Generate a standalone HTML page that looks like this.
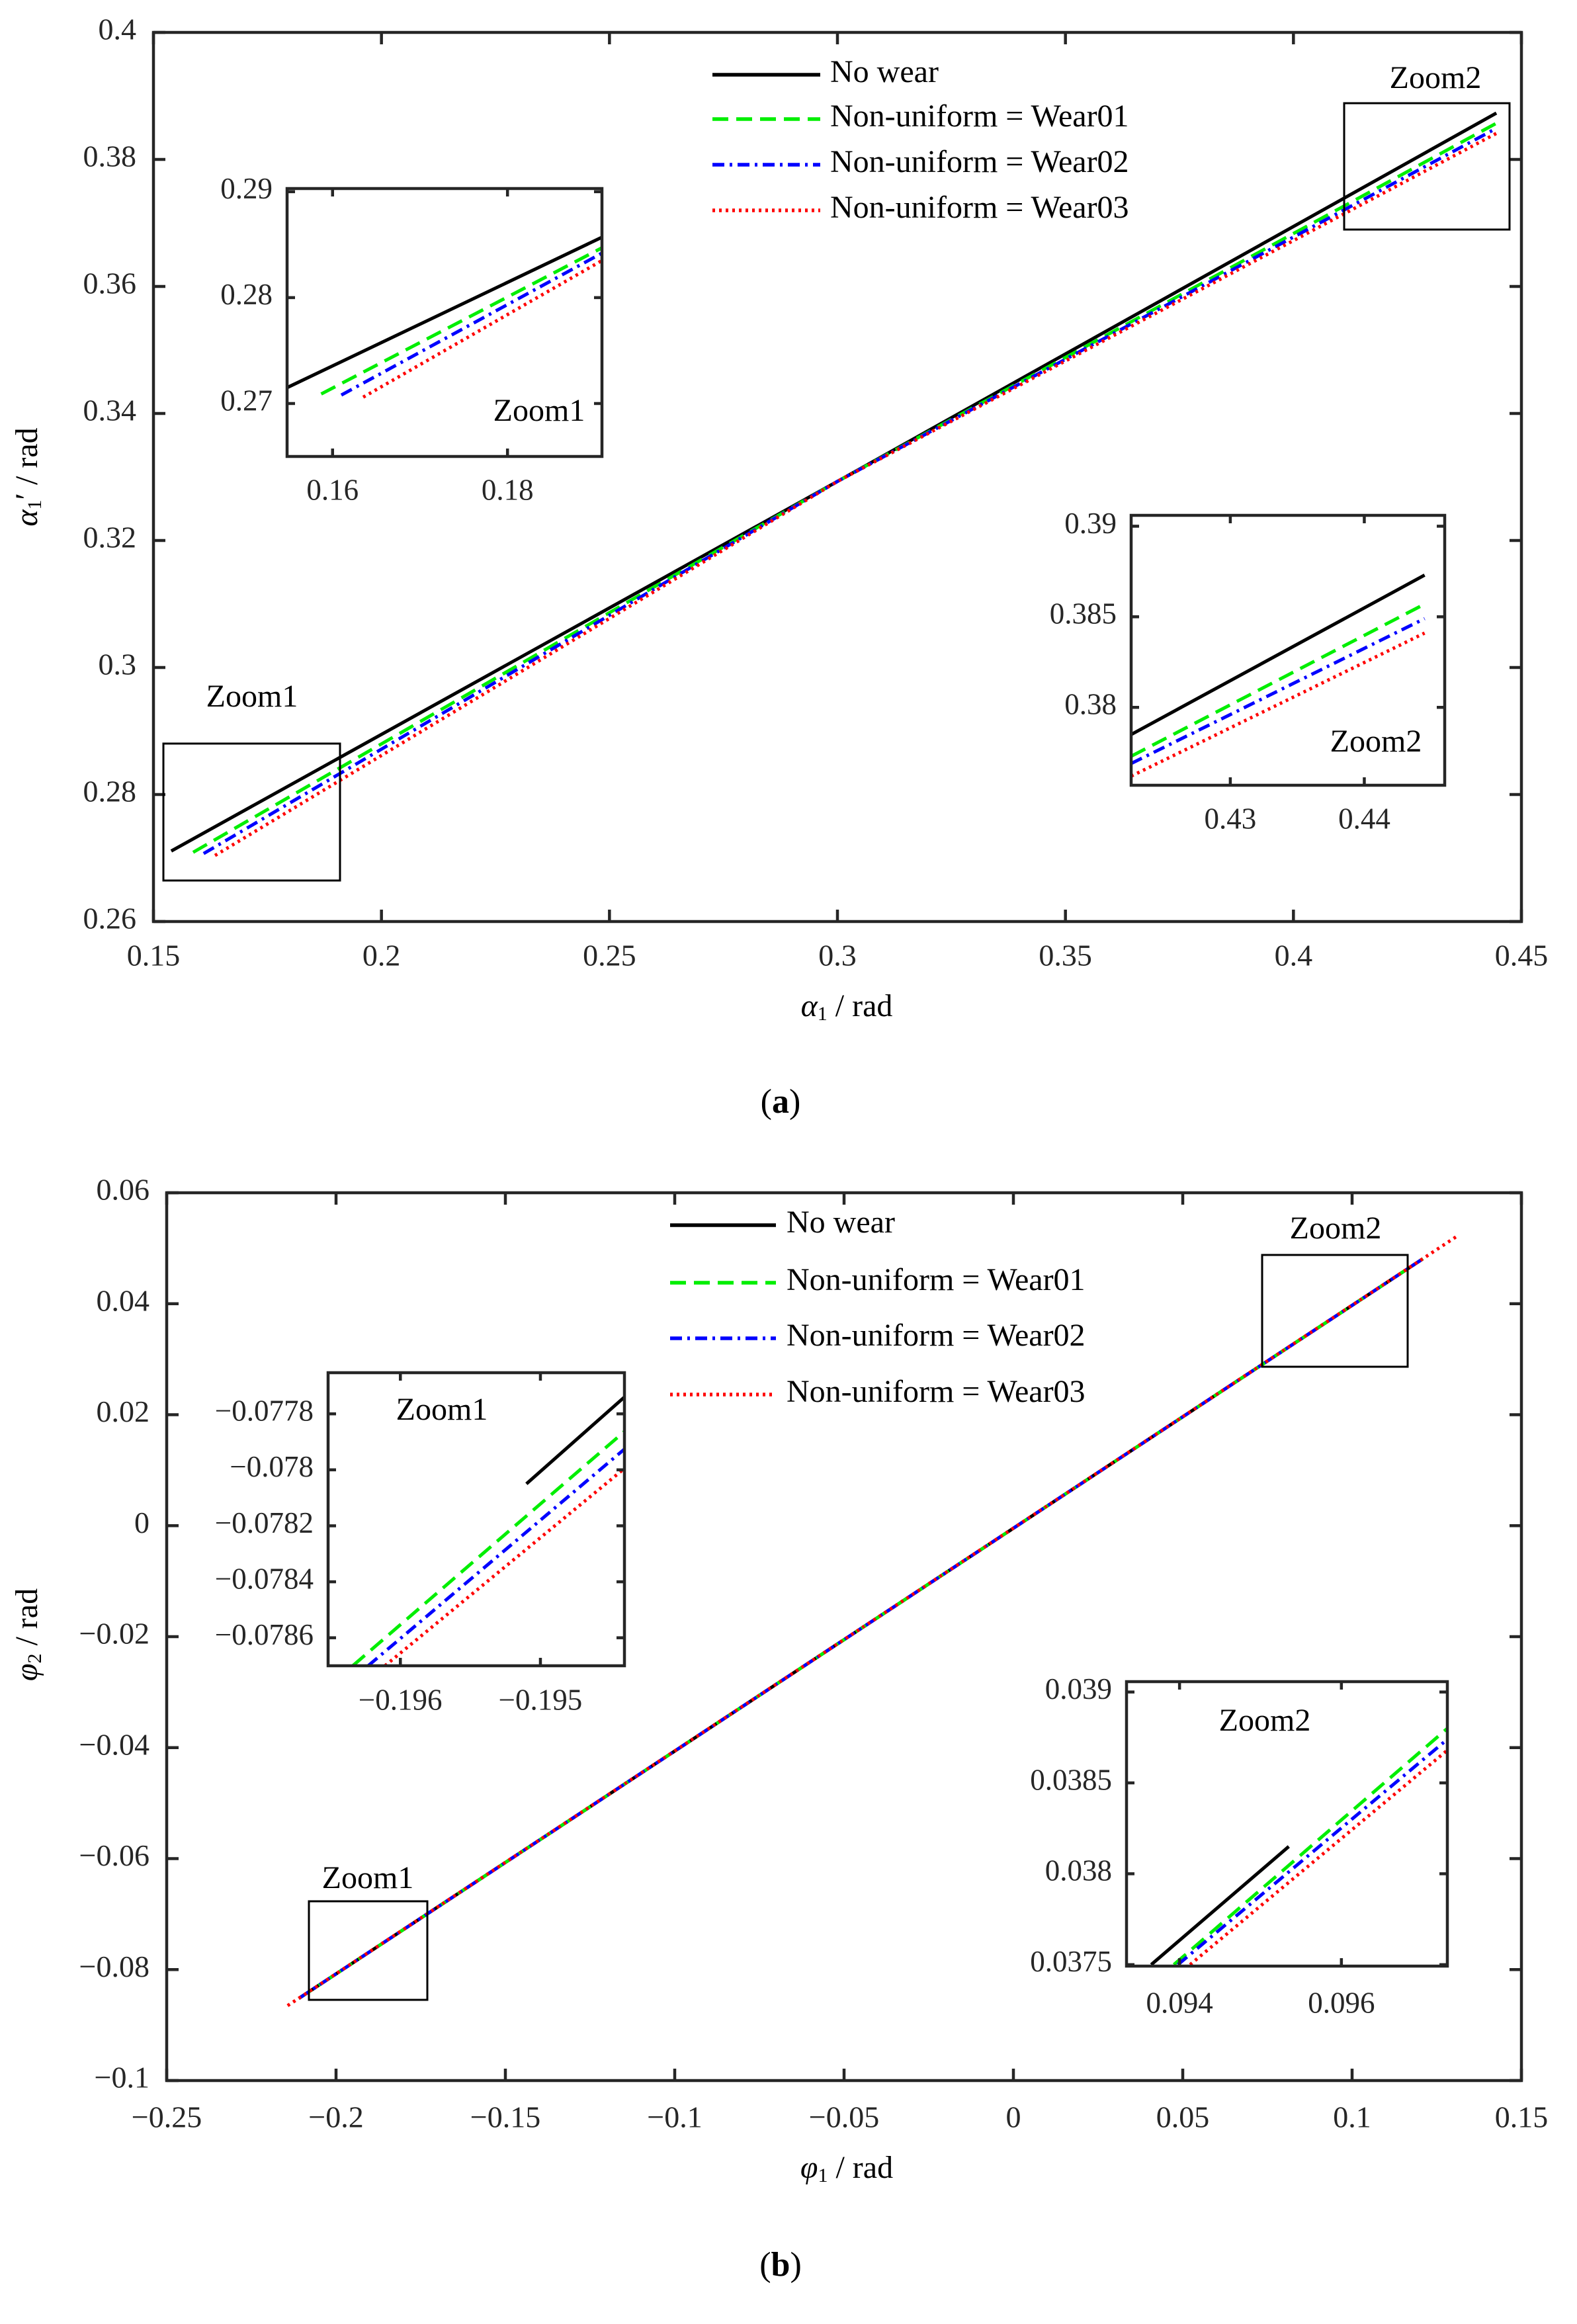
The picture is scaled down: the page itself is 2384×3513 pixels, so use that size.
<!DOCTYPE html>
<html><head><meta charset="utf-8">
<style>
html,body{margin:0;padding:0;background:#fff;}
svg, svg text{font-family:"Liberation Serif","Times New Roman","DejaVu Serif",serif;}
</style></head>
<body>
<svg id="fig" width="2384" height="3508" viewBox="0 0 2384 3508" xmlns="http://www.w3.org/2000/svg"></svg>
<script>
// ---------- Panel (a) data ----------
const aXTicks=[0.15,0.2,0.25,0.3,0.35,0.4,0.45];
const aXTickLabels=["0.15","0.2","0.25","0.3","0.35","0.4","0.45"];
const aYTicks=[0.26,0.28,0.3,0.32,0.34,0.36,0.38,0.4];
const aYTickLabels=["0.26","0.28","0.3","0.32","0.34","0.36","0.38","0.4"];
const aNoWearX=[0.1539,0.3,0.4445], aNoWearY=[0.2711,0.3293,0.3873];
const aWear01X=[0.1587,0.3,0.4445], aWear01Y=[0.2709,0.3293,0.3857];
const aWear02X=[0.1610,0.3,0.4445], aWear02Y=[0.2707,0.3293,0.3849];
const aWear03X=[0.1635,0.3,0.4445], aWear03Y=[0.2704,0.3293,0.3841];
// inset a1
const a1XTicks=[0.16,0.18], a1XTickLabels=["0.16","0.18"];
const a1YTicks=[0.27,0.28,0.29], a1YTickLabels=["0.27","0.28","0.29"];
const a1NoWearX=[0.1548,0.1908], a1NoWearY=[0.2715,0.2857];
const a1Wear01X=[0.1587,0.1908], a1Wear01Y=[0.2709,0.2847];
const a1Wear02X=[0.1610,0.1908], a1Wear02Y=[0.2708,0.2842];
const a1Wear03X=[0.1635,0.1908], a1Wear03Y=[0.2706,0.2835];
// inset a2
const a2XTicks=[0.43,0.44], a2XTickLabels=["0.43","0.44"];
const a2YTicks=[0.38,0.385,0.39], a2YTickLabels=["0.38","0.385","0.39"];
const a2NoWearX=[0.4226,0.4445], a2NoWearY=[0.3785,0.3873];
const a2Wear01X=[0.4226,0.4445], a2Wear01Y=[0.3773,0.3857];
const a2Wear02X=[0.4226,0.4445], a2Wear02Y=[0.3769,0.3849];
const a2Wear03X=[0.4226,0.4445], a2Wear03Y=[0.3762,0.3841];
// ---------- Panel (b) data ----------
const bXTicks=[-0.25,-0.2,-0.15,-0.1,-0.05,0,0.05,0.1,0.15];
const bXTickLabels=["−0.25","−0.2","−0.15","−0.1","−0.05","0","0.05","0.1","0.15"];
const bYTicks=[-0.1,-0.08,-0.06,-0.04,-0.02,0,0.02,0.04,0.06];
const bYTickLabels=["−0.1","−0.08","−0.06","−0.04","−0.02","0","0.02","0.04","0.06"];
const bNoWearX=[-0.211,0.1209], bNoWearY=[-0.0852,0.0481];
const bWear01X=[-0.211,0.1209], bWear01Y=[-0.0852,0.0481];
const bWear02X=[-0.211,0.1209], bWear02Y=[-0.0852,0.0481];
const bWear03X=[-0.2143,0.1313], bWear03Y=[-0.0865,0.0523];
// inset b1
const b1XTicks=[-0.196,-0.195], b1XTickLabels=["−0.196","−0.195"];
const b1YTicks=[-0.0786,-0.0784,-0.0782,-0.078,-0.0778], b1YTickLabels=["−0.0786","−0.0784","−0.0782","−0.078","−0.0778"];
const b1NoWearX=[-0.1951,-0.1944], b1NoWearY=[-0.07805,-0.07774];
const b1Wear01X=[-0.19634,-0.1944], b1Wear01Y=[-0.0787,-0.077863];
const b1Wear02X=[-0.19623,-0.1944], b1Wear02Y=[-0.0787,-0.077926];
const b1Wear03X=[-0.19611,-0.1944], b1Wear03Y=[-0.0787,-0.077995];
// inset b2
const b2XTicks=[0.094,0.096], b2XTickLabels=["0.094","0.096"];
const b2YTicks=[0.0375,0.038,0.0385,0.039], b2YTickLabels=["0.0375","0.038","0.0385","0.039"];
const b2NoWearX=[0.09365,0.09535], b2NoWearY=[0.0375,0.03815];
const b2Wear01X=[0.09393,0.09731], b2Wear01Y=[0.0375,0.03880];
const b2Wear02X=[0.09398,0.09731], b2Wear02Y=[0.0375,0.03874];
const b2Wear03X=[0.09413,0.09731], b2Wear03Y=[0.0375,0.03868];

const NS="http://www.w3.org/2000/svg";
const FONT='"Liberation Serif","Times New Roman","DejaVu Serif",serif';
const svg=document.getElementById('fig');
function mk(tag,attrs,parent){const e=document.createElementNS(NS,tag);for(const k in attrs)e.setAttribute(k,attrs[k]);if(tag==='text')e.setAttribute('font-family',FONT);(parent||svg).appendChild(e);return e;}
const STY={
 nowear:{stroke:"#000",dash:""},
 wear01:{stroke:"#00ee00",dash:"24,12"},
 wear02:{stroke:"#0000ff",dash:"18,8,4,8"},
 wear03:{stroke:"#ff0000",dash:"4,6"}
};
let clipId=0;
function axes(c){
 const sx=v=>c.x0+(v-c.xmin)/(c.xmax-c.xmin)*(c.x1-c.x0);
 const sy=v=>c.y1-(v-c.ymin)/(c.ymax-c.ymin)*(c.y1-c.y0);
 const g=mk('g',{});
 
 
 if(c.fill){const bg=mk('rect',{x:c.x0,y:c.y0,width:c.x1-c.x0,height:c.y1-c.y0,fill:'#fff'},g);
  
  }
 const id='clip'+(clipId++);
 const cp=mk('clipPath',{id:id},g);mk('rect',{x:c.x0,y:c.y0,width:c.x1-c.x0,height:c.y1-c.y0},cp);
 const lg=mk('g',{'clip-path':'url(#'+id+')'},g);
 c.series.forEach(s=>{
  const st=STY[s.k];
  const pts=s.x.map((v,i)=>sx(v)+','+sy(s.y[i])).join(' ');
  const p=mk('polyline',{points:pts,fill:'none',stroke:st.stroke,'stroke-width':c.lw,'stroke-dasharray':st.dash},lg);
  
  
 });
 const tl=c.tick;
 c.xt.forEach((v,i)=>{
  const x=sx(v);
  mk('line',{x1:x,x2:x,y1:c.y1,y2:c.y1-tl,stroke:'#262626','stroke-width':c.aw},g);
  mk('line',{x1:x,x2:x,y1:c.y0,y2:c.y0+tl,stroke:'#262626','stroke-width':c.aw},g);
  const t=mk('text',{x:x,y:c.y1+c.xoff,'font-size':c.fs,'text-anchor':'middle','dominant-baseline':'middle',fill:'#262626'},g);
  t.textContent=c.xl[i];
  
  
 });
 c.yt.forEach((v,i)=>{
  const y=sy(v);
  mk('line',{x1:c.x0,x2:c.x0+tl,y1:y,y2:y,stroke:'#262626','stroke-width':c.aw},g);
  mk('line',{x1:c.x1,x2:c.x1-tl,y1:y,y2:y,stroke:'#262626','stroke-width':c.aw},g);
  const t=mk('text',{x:c.x0-c.yoff,y:y,'font-size':c.fs,'text-anchor':'end','dominant-baseline':'middle',fill:'#262626'},g);
  t.textContent=c.yl[i];
  
  
 });
 const fr=mk('rect',{x:c.x0,y:c.y0,width:c.x1-c.x0,height:c.y1-c.y0,fill:'none',stroke:'#262626','stroke-width':c.aw},g);
 
 
 return {sx,sy,g};
}
function text(x,y,s,size,name,extra){
 const t=mk('text',Object.assign({x:x,y:y,'font-size':size,'text-anchor':'middle','dominant-baseline':'middle',fill:'#000'},extra||{}));
 t.textContent=s;
 
 
 return t;
}
function box(x0,y0,x1,y1,name){
 const r=mk('rect',{x:x0,y:y0,width:x1-x0,height:y1-y0,fill:'none',stroke:'#000','stroke-width':3});
 
 
}
function legend(x0,x1,tx,ys,name){
 const labels=["No wear","Non-uniform = Wear01","Non-uniform = Wear02","Non-uniform = Wear03"];
 const keys=["nowear","wear01","wear02","wear03"];
 const g=mk('g',{});
 
 
 keys.forEach((k,i)=>{
  const st=STY[k];
  const l=mk('line',{x1:x0,x2:x1,y1:ys[i],y2:ys[i],stroke:st.stroke,'stroke-width':5.5,'stroke-dasharray':st.dash},g);
  
  
  const t=mk('text',{x:tx,y:ys[i],'font-size':48,'dominant-baseline':'middle',fill:'#000'},g);
  t.textContent=labels[i];
  
  
 });
}
function ser(x1,y1,x2,y2,x3,y3,x4,y4){return [{k:'nowear',x:x1,y:y1},{k:'wear01',x:x2,y:y2},{k:'wear02',x:x3,y:y3},{k:'wear03',x:x4,y:y4}];}

// ===== Panel (a) =====
axes({name:'panel-a-axes',x0:232,x1:2300,y0:49,y1:1393,xmin:0.15,xmax:0.45,ymin:0.26,ymax:0.4,
 xt:aXTicks,xl:aXTickLabels,yt:aYTicks,yl:aYTickLabels,fs:46,xoff:56,yoff:26,tick:18,aw:4.5,lw:5,
 series:ser(aNoWearX,aNoWearY,aWear01X,aWear01Y,aWear02X,aWear02Y,aWear03X,aWear03Y)});
legend(1077,1240,1255,[113,180,249,318],'panel-a-legend');
box(2032,156,2282,347,'panel-a-zoom2-box'); text(2170,122,'Zoom2',48,'panel-a-zoom2-label');
box(247,1124,514,1331,'panel-a-zoom1-box'); text(381,1057,'Zoom1',48,'panel-a-zoom1-label');
axes({name:'panel-a-inset-zoom1',fill:1,x0:434,x1:910,y0:285,y1:690,xmin:0.1548,xmax:0.1908,ymin:0.265,ymax:0.2903,
 xt:a1XTicks,xl:a1XTickLabels,yt:a1YTicks,yl:a1YTickLabels,fs:45,xoff:55,yoff:22,tick:12,aw:4.5,lw:5,
 series:ser(a1NoWearX,a1NoWearY,a1Wear01X,a1Wear01Y,a1Wear02X,a1Wear02Y,a1Wear03X,a1Wear03Y)});
text(815,625,'Zoom1',48,'panel-a-inset1-title');
axes({name:'panel-a-inset-zoom2',fill:1,x0:1710,x1:2184,y0:779,y1:1187,xmin:0.4226,xmax:0.4460,ymin:0.3757,ymax:0.3906,
 xt:a2XTicks,xl:a2XTickLabels,yt:a2YTicks,yl:a2YTickLabels,fs:45,xoff:55,yoff:22,tick:12,aw:4.5,lw:5,
 series:ser(a2NoWearX,a2NoWearY,a2Wear01X,a2Wear01Y,a2Wear02X,a2Wear02Y,a2Wear03X,a2Wear03Y)});
text(2080,1125,'Zoom2',48,'panel-a-inset2-title');
const axa=text(1280,1525,'',48,'panel-a-x-axis-title');
axa.innerHTML='<tspan font-style="italic">α</tspan><tspan font-size="30" dy="10">1</tspan><tspan dy="-10"> / rad</tspan>';
const aya=text(0,0,'',48,'panel-a-y-axis-title',{transform:'translate(45,721) rotate(-90)'});
aya.innerHTML='<tspan font-style="italic">α</tspan><tspan font-size="30" dy="10">1</tspan><tspan dy="-10">′ / rad</tspan>';
const ca=text(1180,1670,'',52,'panel-a-caption');
ca.innerHTML='(<tspan font-weight="bold">a</tspan>)';

// ===== Panel (b) =====
axes({name:'panel-b-axes',x0:252,x1:2300,y0:1803,y1:3145,xmin:-0.25,xmax:0.15,ymin:-0.1,ymax:0.06,
 xt:bXTicks,xl:bXTickLabels,yt:bYTicks,yl:bYTickLabels,fs:46,xoff:60,yoff:26,tick:18,aw:4.5,lw:5,
 series:ser(bNoWearX,bNoWearY,bWear01X,bWear01Y,bWear02X,bWear02Y,bWear03X,bWear03Y)});
legend(1013,1173,1189,[1852,1939,2023,2108],'panel-b-legend');
box(1908,1897,2128,2066,'panel-b-zoom2-box'); text(2019,1861,'Zoom2',48,'panel-b-zoom2-label');
box(467,2874,646,3023,'panel-b-zoom1-box'); text(556,2843,'Zoom1',48,'panel-b-zoom1-label');
axes({name:'panel-b-inset-zoom1',fill:1,x0:496,x1:944,y0:2075,y1:2518,xmin:-0.196516,xmax:-0.1944,ymin:-0.0787,ymax:-0.077653,
 xt:b1XTicks,xl:b1XTickLabels,yt:b1YTicks,yl:b1YTickLabels,fs:45,xoff:56,yoff:22,tick:12,aw:4.5,lw:5,
 series:ser(b1NoWearX,b1NoWearY,b1Wear01X,b1Wear01Y,b1Wear02X,b1Wear02Y,b1Wear03X,b1Wear03Y)});
text(668,2135,'Zoom1',48,'panel-b-inset1-title');
axes({name:'panel-b-inset-zoom2',fill:1,x0:1703,x1:2188,y0:2542,y1:2972,xmin:0.093345,xmax:0.097309,ymin:0.037492,ymax:0.039057,
 xt:b2XTicks,xl:b2XTickLabels,yt:b2YTicks,yl:b2YTickLabels,fs:45,xoff:60,yoff:22,tick:12,aw:4.5,lw:5,
 series:ser(b2NoWearX,b2NoWearY,b2Wear01X,b2Wear01Y,b2Wear02X,b2Wear02Y,b2Wear03X,b2Wear03Y)});
text(1912,2605,'Zoom2',48,'panel-b-inset2-title');
const axb=text(1280,3281,'',48,'panel-b-x-axis-title');
axb.innerHTML='<tspan font-style="italic">φ</tspan><tspan font-size="30" dy="10">1</tspan><tspan dy="-10"> / rad</tspan>';
const ayb=text(0,0,'',48,'panel-b-y-axis-title',{transform:'translate(45,2471) rotate(-90)'});
ayb.innerHTML='<tspan font-style="italic">φ</tspan><tspan font-size="30" dy="10">2</tspan><tspan dy="-10"> / rad</tspan>';
const cb=text(1180,3428,'',52,'panel-b-caption');
cb.innerHTML='(<tspan font-weight="bold">b</tspan>)';
</script>
</body></html>
